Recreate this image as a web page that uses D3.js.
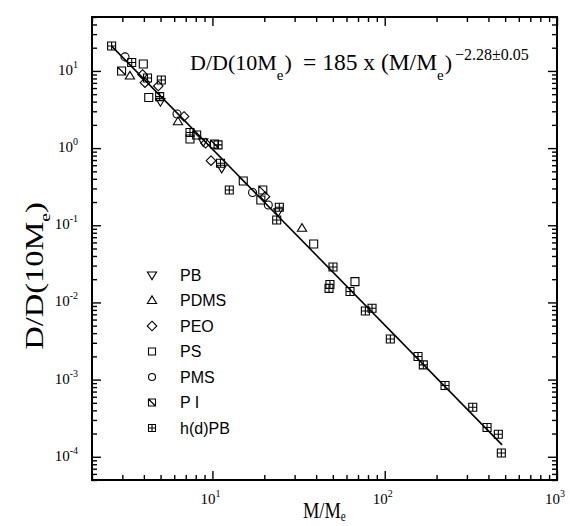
<!DOCTYPE html>
<html>
<head>
<meta charset="utf-8">
<script src="https://cdn.jsdelivr.net/npm/d3@7"></script>
<style>
  body { margin: 0; background: #fff; }
  svg { display: block; }
</style>
</head>
<body>
<div id="chart"></div>
<script>
// data (M/Me, D/D(10Me))
var pbM = [4.99, 8.85, 11.32, 24.1];
var pbD = [4.00, 1.21, 0.548, 0.150];

var pdmsM = [3.32, 6.31, 33.1];
var pdmsD = [8.60, 2.20, 0.0914];

var peoM = [3.93, 4.06, 4.85, 6.84, 9.12, 9.81, 20.2];
var peoD = [8.99, 7.04, 6.38, 2.57, 1.155, 0.687, 0.235];

var psM = [3.97, 4.27, 7.41, 19.1, 38.7, 67.2];
var psD = [12.3, 4.53, 1.31, 0.213, 0.0572, 0.0186];

var pmsM = [3.11, 6.23, 17.1, 21.1];
var pmsD = [15.2, 2.77, 0.266, 0.183];

var piM = [2.97, 8.10, 10.28, 15.1, 19.6];
var piD = [9.98, 1.48, 1.13, 0.375, 0.287];

var hpbM = [2.60, 3.40, 4.20, 5.05, 4.94, 7.41, 10.78, 11.14, 12.53, 24.45, 23.61, 50.1, 48.1, 47.5,
            62.9, 77.2, 84.4, 107.8, 156.1, 167.5, 223.9, 324.3, 392.6, 456.5, 475.2];
var hpbD = [21.05, 12.87, 8.10, 7.63, 4.64, 1.59, 1.10, 0.636, 0.287, 0.171, 0.117, 0.0288, 0.0171, 0.0152,
            0.01386, 0.00775, 0.0084, 0.00336, 0.00199, 0.00155, 0.000839, 0.000438, 0.000240, 0.000196, 0.000112];

var legendNames = ["PB", "PDMS", "PEO", "PS", "PMS", "P I", "h(d)PB"];
var shapes = ["tridown", "triup", "diamond", "square", "circle", "squarediag", "squareplus"];

// fit D/D(10Me) = 185 (M/Me)^-2.28
var fitA = 185, fitB = -2.28;
var fitRange = [2.6, 480];

var xMajor = [10, 100, 1000];
var yMajor = [1e-4, 1e-3, 1e-2, 1e-1, 1, 10];

var series = [
  {m: pbM, d: pbD}, {m: pdmsM, d: pdmsD}, {m: peoM, d: peoD}, {m: psM, d: psD},
  {m: pmsM, d: pmsD}, {m: piM, d: piD}, {m: hpbM, d: hpbD}
];

var margin = {left: 92, top: 17, right: 13, bottom: 46};
var width = 570 - margin.left - margin.right,
    height = 526 - margin.top - margin.bottom;

var svg = d3.select("#chart").append("svg")
    .attr("width", 570)
    .attr("height", 526);

var g = svg.append("g").attr("transform", "translate(" + margin.left + "," + margin.top + ")");

var x = d3.scaleLog().domain([2, 1000]).range([0, width]);
var y = d3.scaleLog().domain([5e-5, 50]).range([height, 0]);

// minor tick values 2..9 of each decade inside the domain
function minorTicks(dom) {
  var out = [];
  for (var e = Math.floor(Math.log10(dom[0])); e <= Math.ceil(Math.log10(dom[1])); e++) {
    for (var k = 2; k <= 9; k++) {
      var v = k * Math.pow(10, e);
      if (v >= dom[0] * 0.999 && v <= dom[1] * 1.001) out.push(v);
    }
  }
  return out;
}

function addTicks(axisFn, scale, vals, len, tr) {
  g.append("g")
    .attr("transform", tr)
    .call(axisFn(scale).tickValues(vals).tickSize(-len).tickFormat(""))
    .call(function(s) { s.select(".domain").remove(); })
    .selectAll("line").attr("stroke", "#000").attr("stroke-width", 1.4);
}

var xMinor = minorTicks(x.domain()), yMinor = minorTicks(y.domain());
addTicks(d3.axisBottom, x, xMinor, 5, "translate(0," + height + ")");
addTicks(d3.axisBottom, x, xMajor, 9, "translate(0," + height + ")");
addTicks(d3.axisTop, x, xMinor, 5, "translate(0,0)");
addTicks(d3.axisTop, x, xMajor, 9, "translate(0,0)");
addTicks(d3.axisLeft, y, yMinor, 5, "translate(0,0)");
addTicks(d3.axisLeft, y, yMajor, 9, "translate(0,0)");
addTicks(d3.axisRight, y, yMinor, 5, "translate(" + width + ",0)");
addTicks(d3.axisRight, y, yMajor, 9, "translate(" + width + ",0)");

g.append("rect")
  .attr("width", width).attr("height", height)
  .attr("fill", "none").attr("stroke", "#000").attr("stroke-width", 2);

var serif = "'Liberation Serif', 'Times New Roman', serif";

// tick labels 10^n
function powLabel(sel, v) {
  sel.append("tspan").text("10");
  sel.append("tspan").attr("dy", -7).attr("font-size", 10).text(String(Math.round(Math.log10(v))));
}

g.selectAll(".xlab").data(xMajor).enter().append("text")
  .attr("class", "xlab")
  .attr("x", function(d) { return x(d) - 2; })
  .attr("y", height + 24)
  .attr("text-anchor", "middle")
  .attr("font-family", serif).attr("font-size", 15)
  .each(function(d) { powLabel(d3.select(this), d); });

g.selectAll(".ylab").data(yMajor).enter().append("text")
  .attr("class", "ylab")
  .attr("x", -14)
  .attr("y", function(d) { return y(d) + 4; })
  .attr("text-anchor", "end")
  .attr("font-family", serif).attr("font-size", 15)
  .each(function(d) { powLabel(d3.select(this), d); });

// axis titles (the scanned titles are a little distorted)
var xt = svg.append("text")
  .attr("transform", "translate(303,518) scale(0.8,1)")
  .attr("font-family", serif).attr("font-size", 23);
xt.append("tspan").text("M/M");
xt.append("tspan").attr("dy", 3).attr("font-size", 14).text("e");

var yt = svg.append("text")
  .attr("transform", "translate(43,276) rotate(-90) scale(1.3,1)")
  .attr("text-anchor", "middle")
  .attr("font-family", serif).attr("font-size", 25);
yt.append("tspan").text("D/D(10M");
yt.append("tspan").attr("dy", 7).attr("font-size", 15).text("e");
yt.append("tspan").attr("dy", -7).text(")");

// fit line
var line = d3.line()
  .x(function(d) { return x(d); })
  .y(function(d) { return y(fitA * Math.pow(d, fitB)); });
g.append("path")
  .datum(fitRange)
  .attr("d", line)
  .attr("fill", "none").attr("stroke", "#000").attr("stroke-width", 1.6);

// marker shapes
function shapePath(type, s) {
  var h = s / 2;
  switch (type) {
    case "tridown": return "M" + (-h * 1.15) + "," + (-h * 0.75) + "L" + (h * 1.15) + "," + (-h * 0.75) + "L0," + (h * 1.15) + "Z";
    case "triup": return "M" + (-h * 1.15) + "," + (h * 0.75) + "L" + (h * 1.15) + "," + (h * 0.75) + "L0," + (-h * 1.15) + "Z";
    case "diamond": return "M0," + (-h * 1.2) + "L" + (h * 1.2) + ",0L0," + (h * 1.2) + "L" + (-h * 1.2) + ",0Z";
    case "circle": return "M" + h + ",0A" + h + "," + h + " 0 1,1 " + (-h) + ",0A" + h + "," + h + " 0 1,1 " + h + ",0Z";
    case "square": return "M" + (-h) + "," + (-h) + "H" + h + "V" + h + "H" + (-h) + "Z";
    case "squarediag": return "M" + (-h) + "," + (-h) + "H" + h + "V" + h + "H" + (-h) + "Z" +
      "M" + (-h) + "," + (-h) + "L" + h + "," + h;
    case "squareplus": return "M" + (-h) + "," + (-h) + "H" + h + "V" + h + "H" + (-h) + "Z" +
      "M0," + (-h) + "V" + h + "M" + (-h) + ",0H" + h;
  }
}

series.forEach(function(s, i) {
  var pts = s.m.map(function(v, j) { return [v, s.d[j]]; });
  g.selectAll(".pt" + i).data(pts).enter().append("path")
    .attr("class", "pt" + i)
    .attr("transform", function(d) { return "translate(" + x(d[0]) + "," + y(d[1]) + ")"; })
    .attr("d", shapePath(shapes[i], 8))
    .attr("fill", "none").attr("stroke", "#000").attr("stroke-width", 1.1);
});

// legend
var leg = svg.append("g").attr("transform", "translate(152,275)");
var rows = leg.selectAll(".row").data(legendNames).enter().append("g")
  .attr("class", "row")
  .attr("transform", function(d, i) { return "translate(0," + (i * 25.5) + ")"; });
rows.append("path")
  .attr("d", function(d, i) { return shapePath(shapes[i], i < 3 ? 8 : 7); })
  .attr("fill", "none").attr("stroke", "#000").attr("stroke-width", 1.1);
rows.append("text")
  .attr("x", 28).attr("dy", "0.36em")
  .attr("font-family", "'Liberation Sans', Arial, sans-serif").attr("font-size", 16)
  .text(function(d) { return d; });

// fit equation, pieces placed where they sit in the figure
var eq = svg.append("text")
  .attr("font-family", serif).attr("font-size", 22);
eq.append("tspan").attr("x", 190).attr("y", 70).text("D/D(10M");
eq.append("tspan").attr("y", 80).attr("dx", 0).attr("font-size", 15).text("e");
eq.append("tspan").attr("y", 70).attr("dx", 1).text(")");
eq.append("tspan").attr("x", 303).attr("y", 70).attr("font-size", 23.5).text("= 185 x (M/M");
eq.append("tspan").attr("y", 80).attr("dx", 0).attr("font-size", 15).text("e");
eq.append("tspan").attr("y", 70).attr("dx", 1).text(")");
eq.append("tspan").attr("x", 455).attr("y", 60).attr("font-size", 16).text("\u22122.28\u00b10.05");
</script>
</body>
</html>
